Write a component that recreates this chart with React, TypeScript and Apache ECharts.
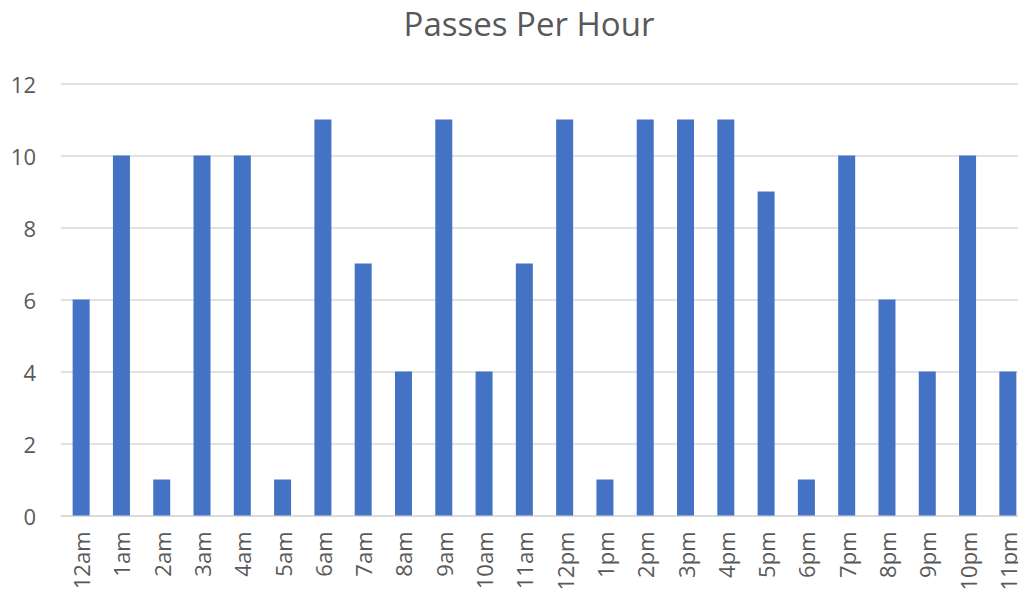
import React, { useEffect, useRef } from "react";
import * as echarts from "echarts";

const hours = [
  "12am", "1am", "2am", "3am", "4am", "5am", "6am", "7am", "8am", "9am", "10am", "11am",
  "12pm", "1pm", "2pm", "3pm", "4pm", "5pm", "6pm", "7pm", "8pm", "9pm", "10pm", "11pm",
];
const passes = [6, 10, 1, 10, 10, 1, 11, 7, 4, 11, 4, 7, 11, 1, 11, 11, 11, 9, 1, 10, 6, 4, 10, 4];
const chartTitle = "Passes Per Hour";

const FONT = "'Open Sans', 'Noto Sans', sans-serif";

export default function App() {
  const ref = useRef<HTMLDivElement>(null);
  useEffect(() => {
    if (!ref.current) return;
    const chart = echarts.init(ref.current, undefined, { renderer: "svg" });
    chart.setOption({
      animation: false,
      backgroundColor: "#ffffff",
      title: {
        text: chartTitle,
        left: 524,
        textAlign: "center",
        top: 2,
        textStyle: { fontFamily: FONT, fontSize: 33, fontWeight: "normal", color: "#595959" },
      },
      grid: { left: 61, right: 12, top: 83.5, bottom: 78.5, containLabel: false },
      xAxis: {
        type: "category",
        data: hours,
        axisLine: { lineStyle: { color: "#d9d9d9", width: 1.5 } },
        axisTick: { show: false },
        axisLabel: {
          rotate: 90,
          margin: 16,
          interval: 0,
          fontFamily: FONT,
          fontSize: 22,
          color: "#595959",
        },
      },
      yAxis: {
        type: "value",
        min: 0,
        max: 12,
        interval: 2,
        axisLine: { show: false },
        axisTick: { show: false },
        splitLine: { lineStyle: { color: "#d9d9d9", width: 1.5 } },
        axisLabel: { margin: 25, fontFamily: FONT, fontSize: 22, color: "#595959" },
      },
      series: [
        {
          type: "bar",
          data: passes,
          barWidth: 17,
          itemStyle: { color: "#4472c4" },
        },
      ],
    });
    return () => chart.dispose();
  }, []);
  return (
    <div
      style={{
        position: "fixed",
        left: 0,
        top: 0,
        width: 1018,
        height: 594,
        overflow: "hidden",
        background: "#fff",
      }}
    >
      <div ref={ref} style={{ width: 1040, height: 594 }} />
    </div>
  );
}
